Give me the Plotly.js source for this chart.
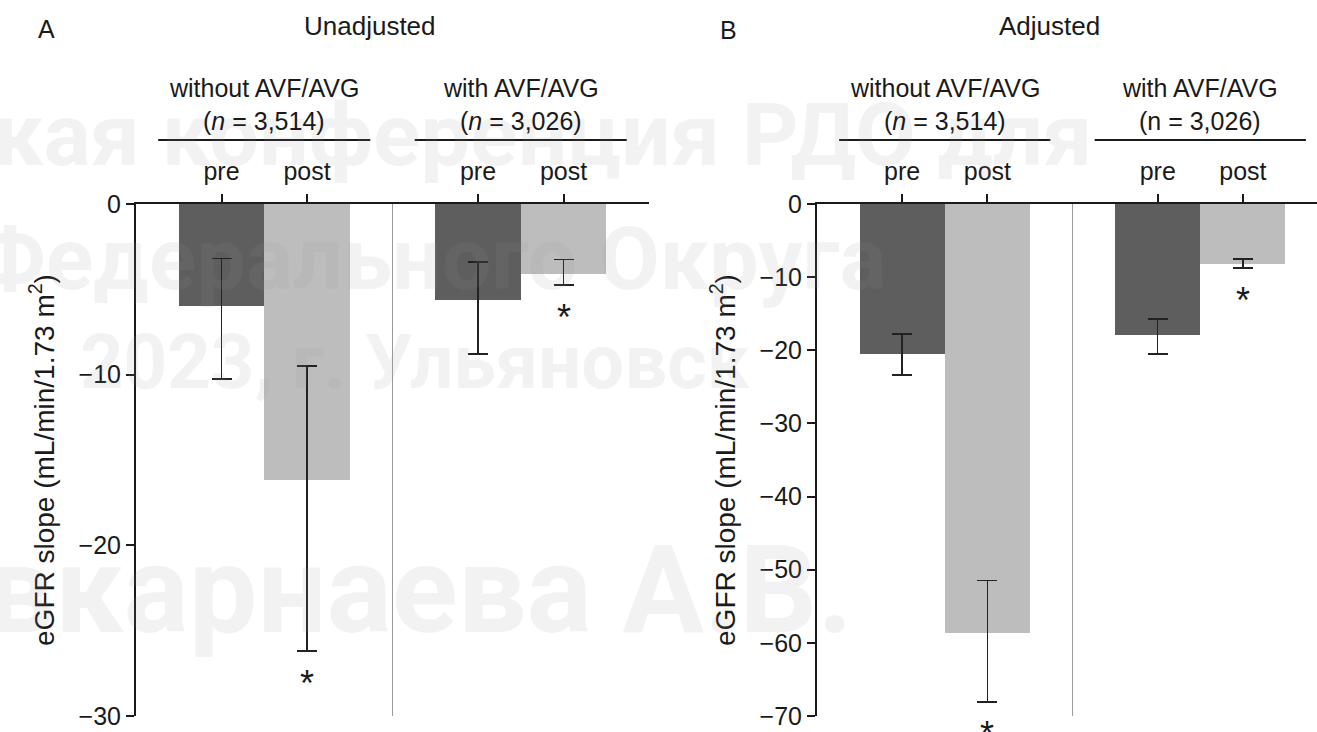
<!DOCTYPE html>
<html>
<head>
<meta charset="utf-8">
<script src="https://cdn.plot.ly/plotly-3.0.1.min.js"></script>
<style>html,body{margin:0;padding:0;background:#fff;}#chart{width:1317px;height:732px;}</style>
</head>
<body>
<div id="chart"></div>
<script>
// ---- data ----
const groups = ['without AVF/AVG', 'with AVF/AVG'];
const periods = ['pre', 'post'];
const groupN_A = ['(<i>n</i> = 3,514)', '(<i>n</i> = 3,026)'];
const groupN_B = ['(<i>n</i> = 3,514)', '(n = 3,026)'];
const panelTitles = ['Unadjusted', 'Adjusted'];
const panelLetters = ['A', 'B'];
const yTitle = 'eGFR slope (mL/min/1.73 m<sup>2</sup>)';

// order: without-pre, without-post, with-pre, with-post
const unadjMean  = [-6.0, -16.2, -5.6, -4.1];
const unadjUpper = [-3.2, -9.5, -3.4, -3.25];
const unadjLower = [-10.25, -26.2, -8.8, -4.75];

const adjMean  = [-20.5, -58.7, -17.9, -8.2];
const adjUpper = [-17.8, -51.5, -15.7, -7.5];
const adjLower = [-23.4, -68.1, -20.5, -8.75];

const significant = [false, true, false, true];

const yTicksA = [0, -10, -20, -30];
const yTicksB = [0, -10, -20, -30, -40, -50, -60, -70];

const watermark = ['кая конференция РДО для', 'Федерального Округа', '2023, г. Ульяновск', 'вкарнаева А.В.'];

// ---- helpers ----
const W = 1317, H = 732;
const fx = p => p / W;
const fy = p => 1 - p / H;
const DARK = '#5e5e5e', LIGHT = '#bdbdbd', INK = '#1a1a1a';
const FONT = 'Liberation Sans, Arial, Helvetica, sans-serif';

// x positions: group g, period p -> g*3 + p + 1
const xs = [], xLabels = [], colors = [];
groups.forEach((g, gi) => periods.forEach((p, pi) => {
  xs.push(gi * 3 + pi + 1); xLabels.push(p); colors.push(pi === 0 ? DARK : LIGHT);
}));
const groupCenters = groups.map((g, gi) => gi * 3 + 1.5);
const separators = groups.slice(1).map((g, gi) => (gi + 1) * 3);

function barTrace(mean, upper, lower, xa, ya) {
  return {
    type: 'bar', x: xs, y: mean, width: 1, xaxis: xa, yaxis: ya,
    marker: {color: colors, line: {width: 0}},
    error_y: {type: 'data', symmetric: false,
      array: upper.map((u, i) => u - mean[i]),
      arrayminus: lower.map((l, i) => mean[i] - l),
      color: '#222', thickness: 1.5, width: 10},
    hoverinfo: 'skip'
  };
}

const data = [
  barTrace(unadjMean, unadjUpper, unadjLower, 'x', 'y'),
  barTrace(adjMean, adjUpper, adjLower, 'x2', 'y2')
];

const yDom = [fy(716), fy(204)];
function xAxis(domain, range) {
  return {domain, range, side: 'top', showline: true, linecolor: INK, linewidth: 2,
    ticks: 'outside', ticklen: 8, tickwidth: 2, tickcolor: INK,
    tickvals: xs, ticktext: xLabels, ticklabelstandoff: 4,
    tickfont: {size: 25, color: INK}, showgrid: false, zeroline: false, fixedrange: true};
}
function yAxis(anchor, range, tickvals) {
  return {anchor, domain: yDom, range, tickvals, showline: true, linecolor: INK, linewidth: 2,
    ticks: 'outside', ticklen: 8, tickwidth: 2, tickcolor: INK,
    tickfont: {size: 25, color: INK}, showgrid: false, zeroline: false, fixedrange: true,
    title: {text: yTitle, font: {size: 28, color: INK}, standoff: 16}};
}

const shapes = [];
const annotations = [];

// faint watermark (drawn first so chart text sits on top)
const wmPos = [[-8, 134, 88], [-28, 258, 88], [78, 362, 76], [-16, 590, 122]];
watermark.forEach((t, i) => annotations.push({xref: 'paper', yref: 'paper', x: fx(wmPos[i][0]), y: fy(wmPos[i][1]),
  text: t, showarrow: false, xanchor: 'left', yanchor: 'middle',
  font: {family: 'Roboto, Noto Sans, sans-serif', size: wmPos[i][2], weight: 700, color: 'rgba(150,150,150,0.12)'}}));

[['x', 'y', -30, groupN_A], ['x2', 'y2', -70, groupN_B]].forEach(([xr, yr, ymin, nTexts]) => {
  separators.forEach(s => shapes.push({type: 'line', xref: xr, yref: yr, x0: s, x1: s, y0: 0, y1: ymin,
    line: {color: '#9a9a9a', width: 1}, layer: 'below'}));
  groupCenters.forEach((c, gi) => {
    shapes.push({type: 'line', xref: xr, yref: 'paper', x0: c - 1.24, x1: c + 1.24, y0: fy(140), y1: fy(140),
      line: {color: INK, width: 2}});
    annotations.push({xref: xr, yref: 'paper', x: c, y: fy(88), text: groups[gi], showarrow: false,
      xanchor: 'center', yanchor: 'middle', font: {size: 25, color: INK}});
    annotations.push({xref: xr, yref: 'paper', x: c, y: fy(121), text: nTexts[gi], showarrow: false,
      xanchor: 'center', yanchor: 'middle', font: {size: 25, color: INK}});
  });
});

// significance stars below lower CI
[[unadjLower, 'x', 'y'], [adjLower, 'x2', 'y2']].forEach(([lower, xr, yr]) => {
  xs.forEach((x, i) => {
    if (significant[i]) annotations.push({xref: xr, yref: yr, x: x, y: lower[i], text: '*', showarrow: false,
      xanchor: 'center', yanchor: 'top', yshift: -10, font: {size: 36, color: INK}});
  });
});

// panel letters and titles
annotations.push({xref: 'paper', yref: 'paper', x: fx(46), y: fy(29), text: panelLetters[0], showarrow: false, xanchor: 'center', yanchor: 'middle', font: {size: 25, color: INK}});
annotations.push({xref: 'paper', yref: 'paper', x: fx(370), y: fy(26), text: panelTitles[0], showarrow: false, xanchor: 'center', yanchor: 'middle', font: {size: 26, color: INK}});
annotations.push({xref: 'paper', yref: 'paper', x: fx(728), y: fy(30), text: panelLetters[1], showarrow: false, xanchor: 'center', yanchor: 'middle', font: {size: 25, color: INK}});
annotations.push({xref: 'paper', yref: 'paper', x: fx(1049), y: fy(26), text: panelTitles[1], showarrow: false, xanchor: 'center', yanchor: 'middle', font: {size: 26, color: INK}});

const layout = {
  width: W, height: H, margin: {l: 0, r: 0, t: 0, b: 0},
  paper_bgcolor: '#ffffff', plot_bgcolor: 'rgba(0,0,0,0)',
  font: {family: FONT, size: 25, color: INK},
  showlegend: false, bargap: 0,
  xaxis: Object.assign(xAxis([fx(136), fx(649)], [0, 6.0]), {anchor: 'y'}),
  yaxis: yAxis('x', [-30, 0], yTicksA),
  xaxis2: Object.assign(xAxis([fx(817), 1], [0, 5.87]), {anchor: 'y2'}),
  yaxis2: yAxis('x2', [-70, 0], yTicksB),
  shapes, annotations
};

Plotly.newPlot('chart', data, layout, {staticPlot: true, displayModeBar: false});
</script>
</body>
</html>
